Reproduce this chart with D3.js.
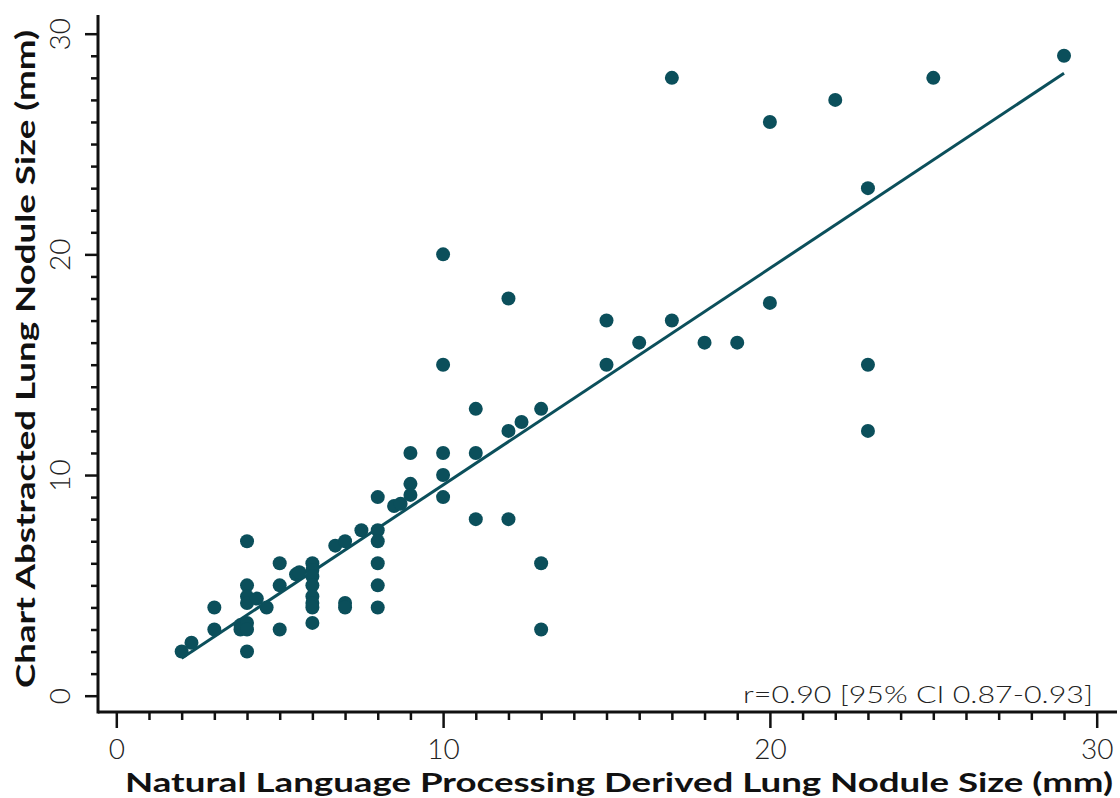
<!DOCTYPE html>
<html>
<head>
<meta charset="utf-8">
<script src="https://cdnjs.cloudflare.com/ajax/libs/d3/7.8.5/d3.min.js"></script>
<style>
  body { margin: 0; background: #fff; }
  text { font-family: "Lato", "Open Sans", sans-serif; }
</style>
</head>
<body>
<div id="chart"></div>
<script>
// NLP derived size (x) vs chart abstracted size (y), mm
var nlpSize = [2, 2.3, 3, 3, 3.8, 3.8, 4, 4, 4, 4, 4, 4, 4, 4.3, 4.6, 5, 5, 5, 5.5, 5.6,
  6, 6, 6, 6, 6, 6, 6, 6, 6.7, 7, 7, 7, 7.5, 8, 8, 8, 8, 8, 8, 8.5, 8.7,
  9, 9, 9, 10, 10, 10, 10, 10, 11, 11, 11, 12, 12, 12, 12.4, 13, 13, 13,
  15, 15, 16, 17, 17, 18, 19, 20, 20, 22, 23, 23, 23, 25, 29]
var chartSize = [2, 2.4, 4, 3, 3.2, 3, 7, 5, 4.5, 4.2, 3.3, 3, 2, 4.4, 4, 6, 5, 3, 5.5, 5.6,
  6, 5.7, 5.4, 5, 4.5, 4.2, 4, 3.3, 6.8, 7, 4.2, 4, 7.5, 9, 7.5, 7, 6, 5, 4, 8.6, 8.7,
  11, 9.6, 9.1, 20, 15, 11, 10, 9, 13, 11, 8, 18, 12, 8, 12.4, 13, 6, 3,
  17, 15, 16, 28, 17, 16, 16, 26, 17.8, 27, 23, 15, 12, 28, 29]
// fitted line (slope, intercept) and its x range
var fitSlope = 0.982
var fitIntercept = -0.27
var fitRange = [2, 29]
var tickLabels = [0, 10, 20, 30]
var note = "r=0.90 [95% CI 0.87-0.93]"

var width = 1120, height = 798
var dotColor = "#0b4f5b"

var svg = d3.select("#chart").append("svg")
  .attr("width", width)
  .attr("height", height)

var x = d3.scaleLinear().domain([0, 30]).range([116.3, 1096.7])
var y = d3.scaleLinear().domain([0, 30]).range([695.7, 33.7])

var axisX = 98, axisY = 712

// axis lines
svg.append("line")
  .attr("x1", axisX).attr("x2", 1117).attr("y1", axisY).attr("y2", axisY)
  .attr("stroke", "#111").attr("stroke-width", 3)
svg.append("line")
  .attr("x1", axisX).attr("x2", axisX).attr("y1", 15).attr("y2", axisY + 1.5)
  .attr("stroke", "#111").attr("stroke-width", 3)

// x axis ticks
var gx = svg.append("g")
  .attr("transform", "translate(0," + (axisY + 1) + ")")
  .call(d3.axisBottom(x).tickValues(d3.range(0, 31)).tickSize(7)
    .tickFormat(function(d) { return tickLabels.indexOf(d) >= 0 ? d : "" }))
gx.select(".domain").remove()
gx.selectAll(".tick line").attr("stroke", "#111").attr("stroke-width", 2.5)
  .attr("y2", function(d) { return d % 10 == 0 ? 15 : 7 })
gx.selectAll(".tick text")
  .attr("y", 46).attr("dy", 0)
  .style("font-size", "28px").style("font-weight", 300).attr("fill", "#222")

// y axis ticks
var gy = svg.append("g")
  .attr("transform", "translate(" + (axisX - 1) + ",0)")
  .call(d3.axisLeft(y).tickValues(d3.range(0, 31)).tickSize(6)
    .tickFormat(function(d) { return tickLabels.indexOf(d) >= 0 ? d : "" }))
gy.select(".domain").remove()
gy.selectAll(".tick line").attr("stroke", "#111").attr("stroke-width", 2.5)
  .attr("x2", function(d) { return d % 10 == 0 ? -12 : -6 })
gy.selectAll(".tick text")
  .attr("x", 0).attr("dy", 0)
  .attr("text-anchor", "middle")
  .attr("transform", "translate(-27,0) rotate(-90)")
  .style("font-size", "28px").style("font-weight", 300).attr("fill", "#222")

// fit line
svg.append("line")
  .attr("x1", x(fitRange[0])).attr("y1", y(fitSlope * fitRange[0] + fitIntercept))
  .attr("x2", x(fitRange[1])).attr("y2", y(fitSlope * fitRange[1] + fitIntercept))
  .attr("stroke", dotColor).attr("stroke-width", 3)

// points
var pts = nlpSize.map(function(v, i) { return {x: v, y: chartSize[i]} })
svg.selectAll("circle.pt")
  .data(pts)
  .enter()
  .append("circle")
  .attr("class", "pt")
  .attr("cx", function(d) { return x(d.x) })
  .attr("cy", function(d) { return y(d.y) })
  .attr("r", 7)
  .attr("fill", dotColor)

// correlation note
svg.append("text")
  .attr("x", 1093).attr("y", 703)
  .attr("text-anchor", "end")
  .attr("textLength", 350).attr("lengthAdjust", "spacingAndGlyphs")
  .style("font-size", "23px").style("font-weight", 300)
  .attr("fill", "#222")
  .text(note)

// axis titles
svg.append("text")
  .attr("x", 619).attr("y", 792)
  .attr("text-anchor", "middle")
  .attr("textLength", 988).attr("lengthAdjust", "spacingAndGlyphs")
  .style("font-size", "26px").style("font-weight", 700)
  .attr("fill", "#111")
  .text("Natural Language Processing Derived Lung Nodule Size (mm)")

svg.append("text")
  .attr("transform", "translate(35,359) rotate(-90)")
  .attr("text-anchor", "middle")
  .attr("textLength", 658).attr("lengthAdjust", "spacingAndGlyphs")
  .style("font-size", "26px").style("font-weight", 700)
  .attr("fill", "#111")
  .text("Chart Abstracted Lung Nodule Size (mm)")
</script>
</body>
</html>
